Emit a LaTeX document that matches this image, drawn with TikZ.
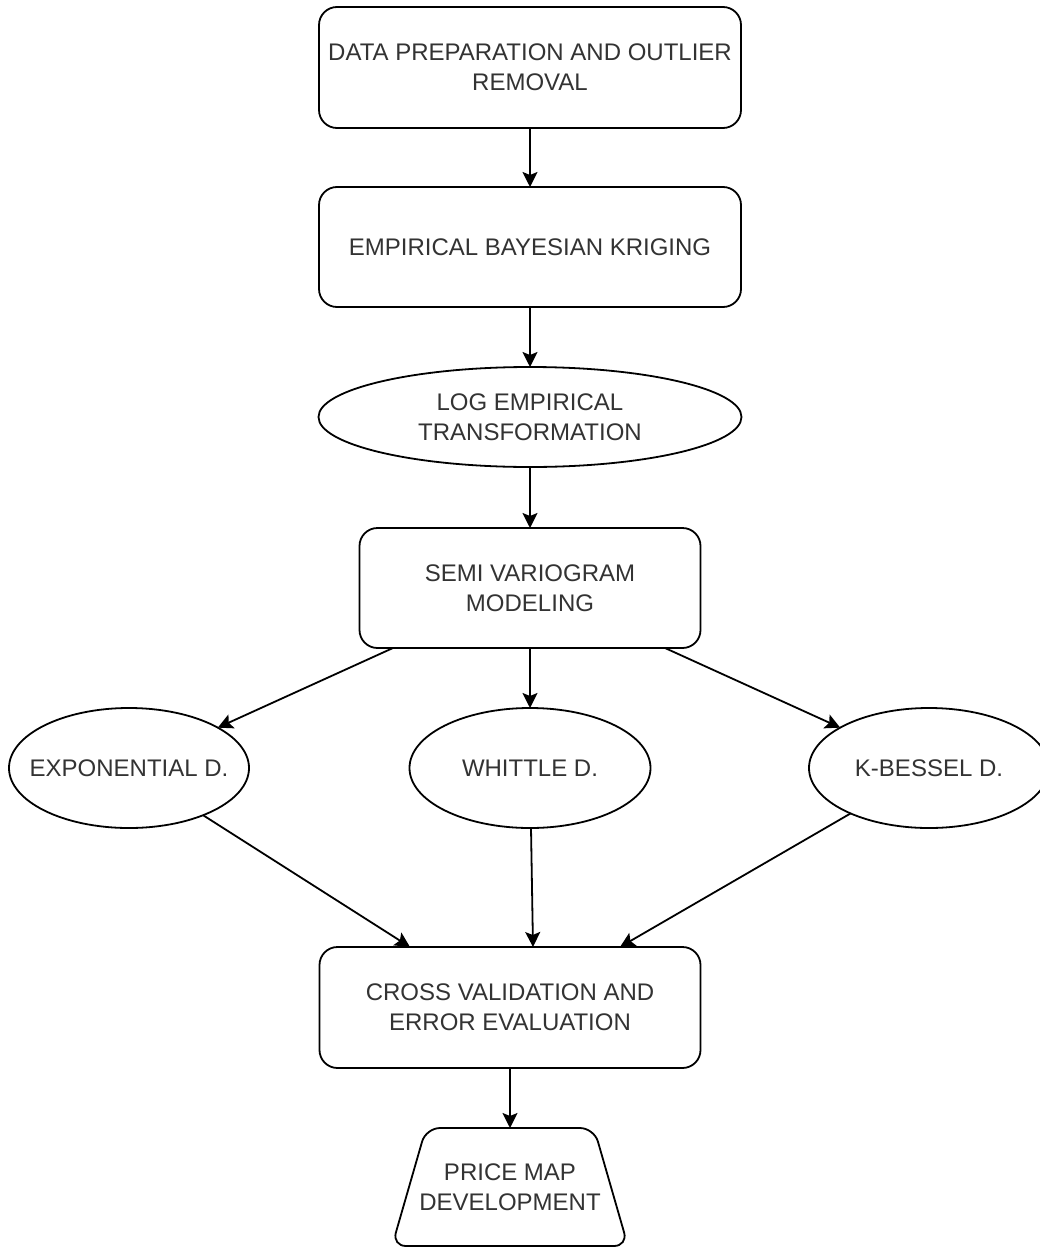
\documentclass[tikz,border=0pt]{standalone}
\usepackage{fontspec}
\setmainfont{Liberation Sans}
\usetikzlibrary{shapes.geometric,arrows.meta,calc}
\definecolor{txtc}{HTML}{333333}
\begin{document}
\begin{tikzpicture}[x=1pt,y=-1pt,
  every node/.style={inner sep=0pt, outer sep=0pt},
  lbl/.style={align=center, font=\fontsize{24pt}{30pt}\selectfont, text=txtc},
  box/.style={lbl, draw, line width=1.8pt, rounded corners=18pt, rectangle},
  ell/.style={draw, line width=1.8pt, ellipse},
  conn/.style={line width=1.8pt, -{Stealth[length=15pt,width=15pt,inset=3pt]}}]
\useasboundingbox (0,0) rectangle (1040,1247);
\fill[white] (0,0) rectangle (1040,1247);

\node[box, minimum width=422pt, minimum height=121pt] (b1) at (530,67.5) {DATA PREPARATION AND OUTLIER\\REMOVAL};
\node[box, minimum width=422pt, minimum height=120pt] (b2) at (530,247) {EMPIRICAL BAYESIAN KRIGING};
\node[ell, minimum width=423pt, minimum height=100pt, label={[lbl]center:LOG EMPIRICAL\\TRANSFORMATION}] (e3) at (530,417) {};
\node[box, minimum width=341pt, minimum height=120pt] (b4) at (530,588) {SEMI VARIOGRAM\\MODELING};

\node[ell, minimum width=240pt, minimum height=120pt, label={[lbl]center:EXPONENTIAL D.}] (exp) at (129,768) {};
\node[ell, minimum width=241pt, minimum height=120pt, label={[lbl]center:WHITTLE D.}] (whi) at (530,768) {};
\node[ell, minimum width=240pt, minimum height=120pt, label={[lbl]center:K-BESSEL D.}] (kb) at (929,768) {};

\node[box, minimum width=381pt, minimum height=121pt] (cv) at (510,1007.5) {CROSS VALIDATION AND\\ERROR EVALUATION};

\node[lbl, minimum width=236pt, minimum height=118pt] (pm) at (510,1187) {PRICE MAP\\DEVELOPMENT};
\draw[line width=1.8pt, rounded corners=14pt] (pm.south) -- (pm.south west) -- ($(pm.north west)+(34,0)$) -- ($(pm.north east)+(-34,0)$) -- (pm.south east) -- cycle;

\draw[conn] (b1) -- (b2);
\draw[conn] (b2) -- (e3);
\draw[conn] (e3) -- (b4);
\draw[conn] ($(b4.south)+(-137,0)$) -- (exp);
\draw[conn] (b4) -- (whi);
\draw[conn] ($(b4.south)+(135,0)$) -- (kb);
\draw[conn] (exp) -- ($(cv.north)+(-100,0)$);
\draw[conn] (whi) -- ($(cv.north)+(23,0)$);
\draw[conn] (kb) -- ($(cv.north)+(110,0)$);
\draw[conn] (cv) -- (pm);
\end{tikzpicture}
\end{document}
